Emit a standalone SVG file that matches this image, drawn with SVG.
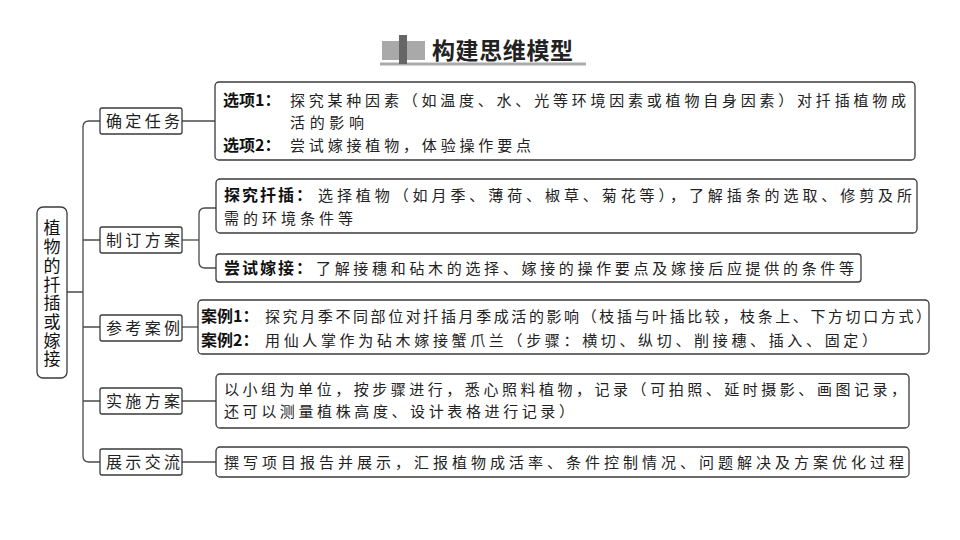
<svg xmlns="http://www.w3.org/2000/svg" width="960" height="540" viewBox="0 0 960 540">
<style>
.bx{fill:#fff;stroke:#3a3a3a;stroke-width:1.3}
.cn{fill:none;stroke:#4a4a4a;stroke-width:1.3}
.lb{font-family:"Noto Sans CJK SC","Liberation Sans",sans-serif;font-weight:bold;font-size:16px;fill:#111}
.ct{font-family:"Noto Sans CJK SC","Liberation Sans",sans-serif;font-size:15px;fill:#222}
.l1{font-family:"Noto Sans CJK SC","Liberation Sans",sans-serif;font-size:16px;fill:#222}
.rt{font-family:"Noto Sans CJK SC","Liberation Sans",sans-serif;font-size:17px;fill:#111;writing-mode:vertical-rl}
</style>
<rect width="960" height="540" fill="#fff"/>
<g id="title">
<rect x="380" y="62.5" width="206" height="3" fill="#aaa"/>
<rect x="382" y="41" width="43" height="19" fill="#a9a9a9"/>
<rect x="399" y="35" width="8" height="29" fill="#666"/>
<text x="432" y="59" font-family="'Noto Sans CJK SC',sans-serif" font-weight="bold" font-size="23" fill="#222" textLength="141" lengthAdjust="spacing">构建思维模型</text>
</g>
<g id="connectors">
<path class="cn" d="M100,121 H89 Q83,121 83,127 V456 Q83,462 89,462 H100"/>
<path class="cn" d="M83,240 H100 M83,327 H100 M83,401 H100 M67,292 H83"/>
<path class="cn" d="M182,121 H215"/>
<path class="cn" d="M182,240 H199"/>
<path class="cn" d="M216,208 H205 Q199,208 199,214 V262 Q199,268 205,268 H216"/>
<path class="cn" d="M182,327 H198"/>
<path class="cn" d="M182,401 H216"/>
<path class="cn" d="M182,462 H216"/>
</g>
<g id="root">
<rect class="bx" x="37" y="207" width="30" height="171" rx="6"/>
<text class="rt" x="52" y="219.5" textLength="148" lengthAdjust="spacing">植物的扦插或嫁接</text>
</g>
<g id="n-queding">
<rect class="bx" x="100" y="108" width="82" height="26" rx="2"/>
<text class="l1" x="106" y="127" textLength="74" lengthAdjust="spacing">确定任务</text>
</g>
<g id="n-zhiding">
<rect class="bx" x="100" y="227" width="82" height="26" rx="2"/>
<text class="l1" x="106" y="246" textLength="74" lengthAdjust="spacing">制订方案</text>
</g>
<g id="n-cankao">
<rect class="bx" x="100" y="315" width="82" height="26" rx="2"/>
<text class="l1" x="106" y="334" textLength="74" lengthAdjust="spacing">参考案例</text>
</g>
<g id="n-shishi">
<rect class="bx" x="100" y="388" width="82" height="26" rx="2"/>
<text class="l1" x="106" y="407" textLength="74" lengthAdjust="spacing">实施方案</text>
</g>
<g id="n-zhanshi">
<rect class="bx" x="100" y="449" width="82" height="26" rx="2"/>
<text class="l1" x="106" y="468" textLength="74" lengthAdjust="spacing">展示交流</text>
</g>
<g id="c-xuanxiang">
<rect class="bx" x="215" y="82" width="700" height="78" rx="4"/>
<text class="lb" x="223" y="106">选项1：</text>
<text class="ct" x="290" y="106" textLength="616" lengthAdjust="spacing">探究某种因素（如温度、水、光等环境因素或植物自身因素）对扦插植物成</text>
<text class="ct" x="290" y="128" textLength="74" lengthAdjust="spacing">活的影响</text>
<text class="lb" x="223" y="151">选项2：</text>
<text class="ct" x="290" y="151" textLength="241" lengthAdjust="spacing">尝试嫁接植物，体验操作要点</text>
</g>
<g id="c-tanjiu">
<rect class="bx" x="216" y="179" width="701" height="54" rx="4"/>
<text class="lb" x="224" y="201" textLength="88" lengthAdjust="spacing">探究扦插：</text>
<text class="ct" x="318" y="201" textLength="594" lengthAdjust="spacing">选择植物（如月季、薄荷、椒草、菊花等），了解插条的选取、修剪及所</text>
<text class="ct" x="224" y="224" textLength="129" lengthAdjust="spacing">需的环境条件等</text>
</g>
<g id="c-changshi">
<rect class="bx" x="216" y="254" width="645" height="28" rx="3"/>
<text class="lb" x="224" y="274" textLength="88" lengthAdjust="spacing">尝试嫁接：</text>
<text class="ct" x="316" y="274" textLength="538" lengthAdjust="spacing">了解接穗和砧木的选择、嫁接的操作要点及嫁接后应提供的条件等</text>
</g>
<g id="c-anli">
<rect class="bx" x="198" y="300" width="731" height="54" rx="4"/>
<text class="lb" x="201" y="322">案例1：</text>
<text class="ct" x="265" y="322" textLength="666" lengthAdjust="spacing">探究月季不同部位对扦插月季成活的影响（枝插与叶插比较，枝条上、下方切口方式）</text>
<text class="lb" x="201" y="346">案例2：</text>
<text class="ct" x="265" y="346" textLength="612" lengthAdjust="spacing">用仙人掌作为砧木嫁接蟹爪兰（步骤：横切、纵切、削接穗、插入、固定）</text>
</g>
<g id="c-shishi">
<rect class="bx" x="216" y="374" width="693" height="54" rx="4"/>
<text class="ct" x="224" y="395" textLength="682" lengthAdjust="spacing">以小组为单位，按步骤进行，悉心照料植物，记录（可拍照、延时摄影、画图记录，</text>
<text class="ct" x="224" y="417" textLength="350" lengthAdjust="spacing">还可以测量植株高度、设计表格进行记录）</text>
</g>
<g id="c-zhanshi">
<rect class="bx" x="216" y="447" width="693" height="30" rx="4"/>
<text class="ct" x="224" y="468" textLength="680" lengthAdjust="spacing">撰写项目报告并展示，汇报植物成活率、条件控制情况、问题解决及方案优化过程</text>
</g>
</svg>
